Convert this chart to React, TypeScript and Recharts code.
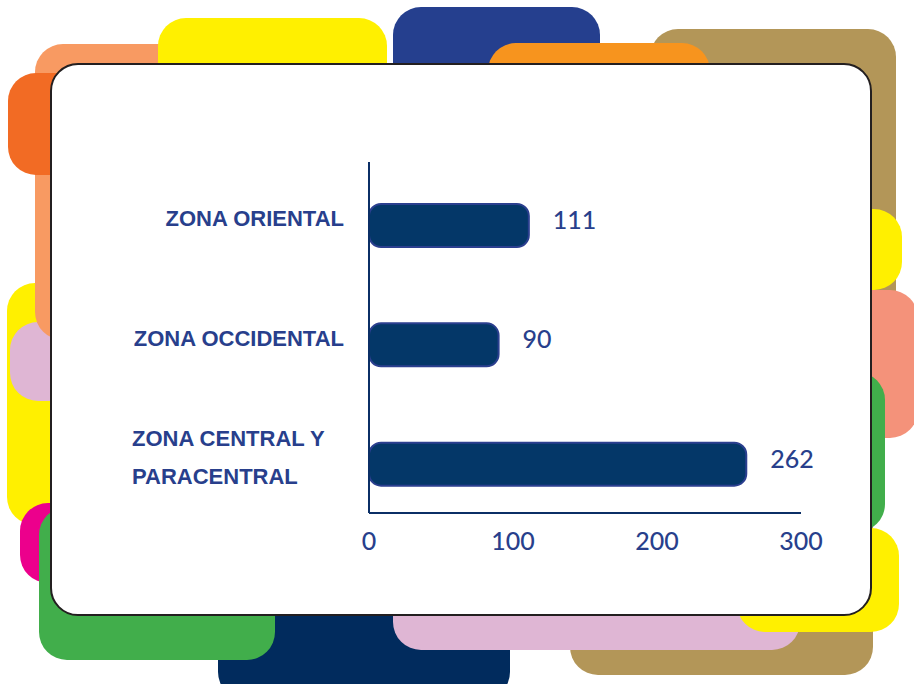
import { BarChart, Bar, XAxis, YAxis, LabelList } from 'recharts'

const CATEGORIES = ['ZONA ORIENTAL', 'ZONA OCCIDENTAL', 'ZONA CENTRAL Y PARACENTRAL']
const VALUES = [111, 90, 262]
const X_TICKS = [0, 100, 200, 300]

const data = CATEGORIES.map((zona, i) => ({ zona, total: VALUES[i] }))

const TEXT_BLUE = '#283f8c'
const AXIS_NAVY = '#0b2f66'

// decorative tabs behind the card, bottom to top
const SHAPES = [
  { left: 650, top: 29, width: 246, height: 400, bg: '#b39658' }, // tan top right
  { left: 570, top: 420, width: 303, height: 255, bg: '#b39658' }, // tan bottom
  { left: 218, top: 450, width: 292, height: 250, bg: '#012b5d' }, // navy bottom
  { left: 393, top: 450, width: 407, height: 200, bg: '#dfb6d4' }, // pink bottom
  { left: 7, top: 283, width: 150, height: 242, bg: '#fff000' }, // yellow left
  { left: 10, top: 322, width: 150, height: 79, bg: '#dfb6d4' }, // lilac left
  { left: 35, top: 44, width: 200, height: 296, bg: '#f89a62' }, // light orange
  { left: 158, top: 18, width: 229, height: 150, bg: '#fff000' }, // yellow top
  { left: 393, top: 7, width: 207, height: 150, bg: '#253f8e' }, // navy top
  { left: 488, top: 43, width: 222, height: 150, bg: '#f7941e' }, // orange top
  { left: 8, top: 73, width: 150, height: 102, bg: '#f26b24' }, // dark orange
  { left: 20, top: 503, width: 150, height: 80, bg: '#ec008c' }, // magenta
  { left: 39, top: 507, width: 236, height: 153, bg: '#41ae4b' }, // green left
  { left: 780, top: 209, width: 122, height: 81, bg: '#fff000' }, // yellow right
  { left: 780, top: 290, width: 138, height: 148, bg: '#f4927a' }, // salmon
  { left: 780, top: 372, width: 105, height: 160, bg: '#41ae4b' }, // green right
  { left: 737, top: 528, width: 162, height: 104, bg: '#fff000' }, // yellow bottom right
]

function wrapLabel(text: string, max = 15) {
  const lines: string[] = []
  let cur = ''
  for (const w of text.split(' ')) {
    const next = cur ? cur + ' ' + w : w
    if (next.length > max && cur) {
      lines.push(cur)
      cur = w
    } else {
      cur = next
    }
  }
  if (cur) lines.push(cur)
  return lines
}

function CategoryTick(props: any) {
  const { x, y, payload } = props
  const lines = wrapLabel(String(payload.value))
  const style = { fontFamily: '"Liberation Sans", Arial, sans-serif', fontWeight: 700, fontSize: 22 }
  if (lines.length === 1) {
    return (
      <text x={x} y={y + 0.5} textAnchor="end" fill={TEXT_BLUE} style={style}>
        {lines[0]}
      </text>
    )
  }
  return (
    <text x={x - 212} y={y - 18.6} textAnchor="start" fill={TEXT_BLUE} style={style}>
      {lines.map((l, i) => (
        <tspan key={i} x={x - 212} dy={i === 0 ? 0 : 38}>
          {l}
        </tspan>
      ))}
    </text>
  )
}

function ValueLabel(props: any) {
  const { x, y, width, height, value } = props
  return (
    <text
      x={x + width + 24}
      y={y + height / 2 + 3.6}
      fill={TEXT_BLUE}
      style={{ fontFamily: 'Lato, sans-serif', fontSize: 25, fontWeight: 500 }}
    >
      {value}
    </text>
  )
}

export default function App() {
  return (
    <div
      style={{
        position: 'absolute',
        left: 0,
        top: 0,
        width: 914,
        height: 684,
        overflow: 'hidden',
        background: '#fff',
      }}
    >
      {SHAPES.map((s, i) => (
        <div
          key={i}
          style={{
            position: 'absolute',
            left: s.left,
            top: s.top,
            width: s.width,
            height: s.height,
            background: s.bg,
            borderRadius: 28,
          }}
        />
      ))}
      <div
        style={{
          position: 'absolute',
          left: 50,
          top: 63,
          width: 818,
          height: 549,
          background: '#fff',
          border: '2px solid #231f20',
          borderRadius: 28,
        }}
      />
      <div style={{ position: 'absolute', left: 0, top: 0 }}>
        <BarChart
          width={914}
          height={684}
          data={data}
          layout="vertical"
          margin={{ top: 162, right: 113, bottom: 131, left: 0 }}
          barSize={43}
        >
          <XAxis
            type="number"
            domain={[0, 300]}
            ticks={X_TICKS}
            tickLine={false}
            tickMargin={13}
            height={40}
            axisLine={{ stroke: AXIS_NAVY, strokeWidth: 2 }}
            tick={{ fill: TEXT_BLUE, fontSize: 25, fontWeight: 500, fontFamily: 'Lato, sans-serif' }}
          />
          <YAxis
            type="category"
            dataKey="zona"
            width={369}
            tickLine={false}
            tickMargin={19}
            padding={{ top: 4, bottom: -11 }}
            axisLine={{ stroke: AXIS_NAVY, strokeWidth: 2 }}
            tick={(p: any) => <CategoryTick {...p} />}
          />
          <Bar
            dataKey="total"
            fill="#043768"
            stroke="#2b3f8f"
            strokeWidth={2}
            radius={12}
            isAnimationActive={false}
          >
            <LabelList dataKey="total" content={(p: any) => <ValueLabel {...p} />} />
          </Bar>
        </BarChart>
      </div>
    </div>
  )
}
